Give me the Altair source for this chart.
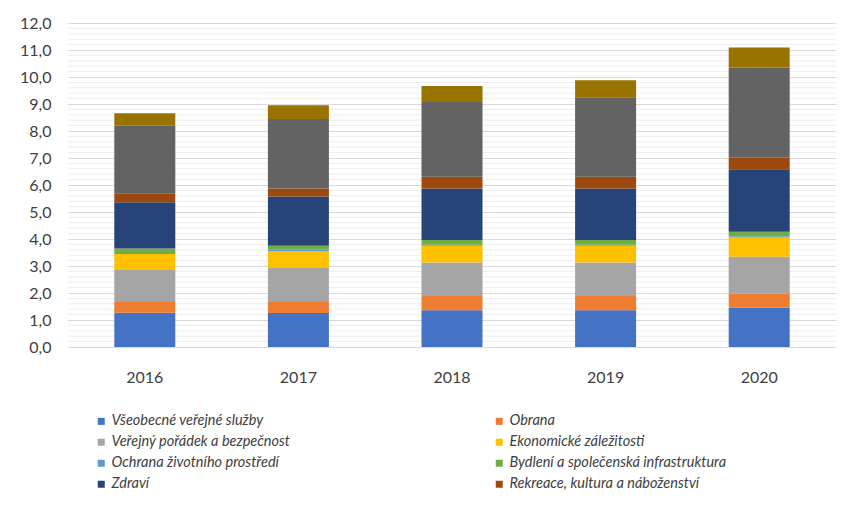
import altair as alt
import pandas as pd

years = ["2016", "2017", "2018", "2019", "2020"]

series = [
    "Všeobecné veřejné služby",
    "Obrana",
    "Veřejný pořádek a bezpečnost",
    "Ekonomické záležitosti",
    "Ochrana životního prostředí",
    "Bydlení a společenská infrastruktura",
    "Zdraví",
    "Rekreace, kultura a náboženství",
    "Vzdělávání",
    "Sociální věci",
]
legend_series = series[:8]

colors = ["#4472C4", "#ED7D31", "#A5A5A5", "#FFC000", "#5B9BD5",
          "#70AD47", "#264478", "#9E480E", "#636363", "#997300"]

v_sluzby = [1.27, 1.26, 1.36, 1.36, 1.46]
v_obrana = [0.40, 0.41, 0.53, 0.53, 0.52]
v_poradek = [1.18, 1.26, 1.24, 1.24, 1.36]
v_ekonom = [0.59, 0.63, 0.62, 0.62, 0.72]
v_prostredi = [0.04, 0.04, 0.04, 0.04, 0.04]
v_bydleni = [0.17, 0.15, 0.17, 0.17, 0.17]
v_zdravi = [1.71, 1.82, 1.91, 1.91, 2.31]
v_rekreace = [0.33, 0.30, 0.44, 0.44, 0.43]
v_vzdelavani = [2.50, 2.57, 2.76, 2.94, 3.34]
v_socialni = [0.47, 0.51, 0.60, 0.63, 0.74]

all_values = [v_sluzby, v_obrana, v_poradek, v_ekonom, v_prostredi,
              v_bydleni, v_zdravi, v_rekreace, v_vzdelavani, v_socialni]

major_ticks = [0, 1, 2, 3, 4, 5, 6, 7, 8, 9, 10, 11, 12]
minor_ticks = [i / 5 for i in range(0, 61) if i % 5 != 0]

rows = []
for si, (name, vals) in enumerate(zip(series, all_values)):
    for y, v in zip(years, vals):
        rows.append({"rok": y, "kategorie": name, "hodnota": v, "poradi": si})
df = pd.DataFrame(rows)
df_minor = pd.DataFrame({"t": minor_ticks})

FONT = "Lato"
yscale = alt.Scale(domain=[0, 12], nice=False)
yaxis = alt.Axis(values=major_ticks, grid=True, gridColor="#d9d9d9",
                 domain=False, ticks=False, labelFontSize=16, format=".1f",
                 labelColor="#404040", labelFont=FONT, labelPadding=17,
                 labelExpr="replace(datum.label, '.', ',')")

minor = alt.Chart(df_minor).mark_rule(color="#eeeeee", strokeWidth=1).encode(
    y=alt.Y("t:Q", scale=yscale, axis=yaxis, title=None),
    x=alt.value(0), x2=alt.value(768),
)

bars = alt.Chart(df).mark_bar(size=61).encode(
    x=alt.X("rok:N", title=None,
            scale=alt.Scale(paddingInner=0.6, paddingOuter=0.3),
            axis=alt.Axis(labelAngle=0, labelFontSize=16, labelColor="#404040",
                          labelFont=FONT, domain=False, ticks=False, labelPadding=22)),
    y=alt.Y("hodnota:Q", stack="zero", title=None, scale=yscale, axis=yaxis),
    color=alt.Color("kategorie:N",
                    scale=alt.Scale(domain=series, range=colors),
                    legend=alt.Legend(values=legend_series, title=None, orient="none",
                                      legendX=26, legendY=391, columns=2,
                                      direction="horizontal",
                                      columnPadding=201, rowPadding=6,
                                      symbolType="square", symbolSize=49,
                                      symbolStrokeWidth=0,
                                      labelFontSize=14.5, labelFontStyle="italic",
                                      labelFont=FONT, labelColor="#404040",
                                      labelLimit=400, labelOffset=3)),
    order=alt.Order("poradi:Q", sort="ascending"),
)

chart = alt.layer(minor, bars).properties(
    width=768, height=324,
    autosize=alt.AutoSizeParams(type="none"),
    padding={"left": 60, "top": 15, "right": 6, "bottom": 158},
).configure(background="white").configure_view(stroke=None)

chart.save("out.html", embed_options={"renderer": "svg", "actions": False})
